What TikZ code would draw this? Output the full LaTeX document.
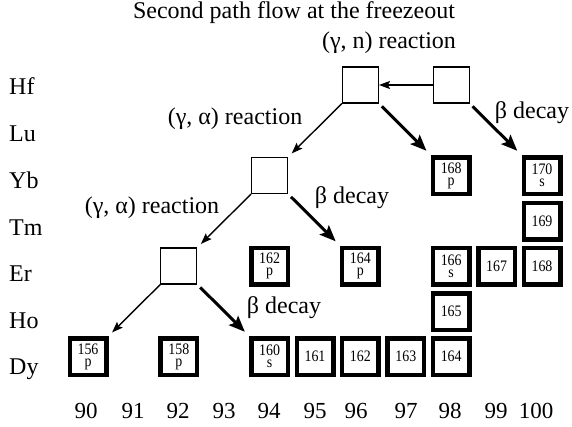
\documentclass[tikz,border=0pt]{standalone}
\usepackage{fontspec}
\setmainfont{Liberation Serif}
\newfontfamily\narrowserif[FakeStretch=0.87]{Liberation Serif}
\usetikzlibrary{arrows.meta}
\begin{document}
\begin{tikzpicture}[x=1pt,y=-1pt,
  iso/.style={draw, line width=4.5pt, minimum size=36.5pt, inner sep=0pt,
    align=center, font=\narrowserif\fontsize{16}{12}\selectfont},
  waypoint/.style={draw, line width=1.1pt, minimum size=36pt, inner sep=0pt},
  txt/.style={anchor=base, inner sep=0pt, font=\fontsize{24}{28}\selectfont},
  elem/.style={anchor=base west, inner sep=0pt, font=\fontsize{24}{28}\selectfont},
  num/.style={anchor=base, inner sep=0pt, font=\fontsize{23}{26}\selectfont},
  reac/.style={-{Stealth[length=11pt,width=8pt,inset=2pt]}, line width=1.4pt},
  beta/.style={-{Stealth[length=16pt,width=13pt,inset=3pt]}, line width=3pt,
    shorten <=4pt, shorten >=6pt},
]
\useasboundingbox (0,0) rectangle (572,426);

% title and reaction labels
\node[txt] (title) at (294,18) {Second path flow at the freezeout};
\node[txt] (gn) at (389,48) {(γ, n) reaction};
\node[txt] (ga1) at (235,124) {(γ, α) reaction};
\node[txt] (ga2) at (152,213) {(γ, α) reaction};
\node[txt] (b1) at (532,118) {β decay};
\node[txt] (b2) at (352,203) {β decay};
\node[txt] (b3) at (284,313) {β decay};

% element names (rows)
\node[elem] (hf) at (9,94) {Hf};
\node[elem] (lu) at (9,141) {Lu};
\node[elem] (yb) at (9,188) {Yb};
\node[elem] (tm) at (9,235) {Tm};
\node[elem] (er) at (9,281) {Er};
\node[elem] (ho) at (9,328) {Ho};
\node[elem] (dy) at (9,374) {Dy};

% neutron numbers (columns)
\node[num] (n90)  at (86,418)  {90};
\node[num] (n91)  at (133,418) {91};
\node[num] (n92)  at (178,418) {92};
\node[num] (n93)  at (224,418) {93};
\node[num] (n94)  at (269,418) {94};
\node[num] (n95)  at (315,418) {95};
\node[num] (n96)  at (356,418) {96};
\node[num] (n97)  at (406,418) {97};
\node[num] (n98)  at (450,418) {98};
\node[num] (n99)  at (496,418) {99};
\node[num] (n100) at (536,418) {100};

% stable / p / s isotopes
\node[iso] (dy156) at (88,356.5)    {156\\p};
\node[iso] (dy158) at (178.8,356.5) {158\\p};
\node[iso] (dy160) at (269.6,356.5) {160\\s};
\node[iso] (dy161) at (315,356.5)   {161};
\node[iso] (dy162) at (360.4,356.5) {162};
\node[iso] (dy163) at (405.8,356.5) {163};
\node[iso] (dy164) at (451.2,356.5) {164};
\node[iso] (ho165) at (451.2,311.5) {165};
\node[iso] (er162) at (269.6,266)   {162\\p};
\node[iso] (er164) at (360.4,266)   {164\\p};
\node[iso] (er166) at (451.2,266)   {166\\s};
\node[iso] (er167) at (496.6,266)   {167};
\node[iso] (er168) at (542,266)     {168};
\node[iso] (tm169) at (542,221)     {169};
\node[iso] (yb168) at (451.2,175.5) {168\\p};
\node[iso] (yb170) at (542,175.5)   {170\\s};

% unstable nuclei on the path
\node[waypoint] (hfL) at (360.4,85) {};
\node[waypoint] (hfR) at (451.2,85) {};
\node[waypoint] (ybO) at (269.6,175.5) {};
\node[waypoint] (erO) at (178.8,266) {};

% photodisintegration steps
\draw[reac] (hfR.west) -- (hfL.east);
\draw[reac, shorten >=5pt] (hfL.south west) -- (ybO.north east);
\draw[reac, shorten >=5pt] (ybO.south west) -- (erO.north east);
\draw[reac, shorten >=5pt] (erO.south west) -- (dy156.north east);

% beta decays
\draw[beta] (hfL.south east) -- (yb168.north west);
\draw[beta] (hfR.south east) -- (yb170.north west);
\draw[beta] (ybO.south east) -- (er164.north west);
\draw[beta] (erO.south east) -- (dy160.north west);
\end{tikzpicture}
\end{document}
